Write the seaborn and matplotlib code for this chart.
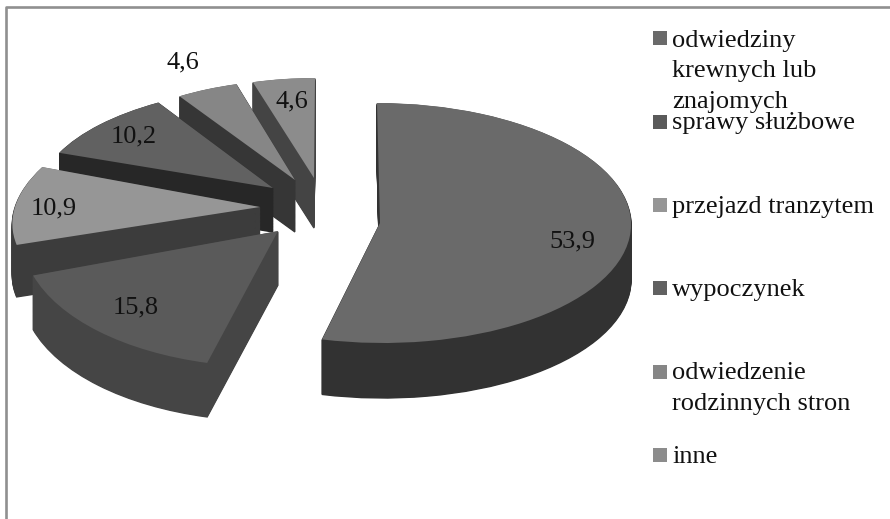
import numpy as np
import matplotlib
matplotlib.use("Agg")
import matplotlib.pyplot as plt
from matplotlib.transforms import Affine2D
import seaborn as sns

# data
categories = ["odwiedziny\nkrewnych lub\nznajomych", "sprawy służbowe", "przejazd tranzytem",
              "wypoczynek", "odwiedzenie\nrodzinnych stron", "inne"]
values = [53.9, 15.8, 10.9, 10.2, 4.6, 4.6]

# colours
top_colors = ["#6a6a6a", "#5a5a5a", "#969696", "#616161", "#868686", "#8c8c8c"]
side_colors = ["#323232", "#454545", "#3c3c3c", "#272727", "#363636", "#444444"]

# each slice is moved by hand, the 3d chart has its own perspective
apex_x = [380, 278, 260, 273, 295, 314]
apex_y = [223, 231, 207, 188, 180, 178]
radius_x = [251, 256, 245, 233, 216, 218]
radius_y = [120, 136, 116, 102, 100, 100]
skew = [-3, 9, 36, 15, 3, 1]
depth = [55, 54, 52, 44, 52, 50]
stack = [0, 5, 4, 3, 2, 1]  # higher is drawn later

# text positions in pixels
value_x = [572, 136, 54, 134, 183, 292]
value_y = [241, 307, 208, 136, 62, 101]
legend_x = 672
legend_y = [47, 129, 213, 296, 379, 463]
line_gap = [30.5, 0, 0, 0, 31, 0]
marker_y = [38, 122, 205, 288, 372, 455]

sns.set_theme(style="white")
plt.rcParams["font.family"] = ["Liberation Serif"]

fig = plt.figure(figsize=(8.9, 5.19), dpi=100)
ax = fig.add_axes([0, 0, 1, 1])


def draw_layer(colors, lift, zbase, edge):
    wedges, _ = ax.pie(values, colors=colors, startangle=90, counterclock=False)
    for i, w in enumerate(wedges):
        m = np.array([[radius_x[i], skew[i], apex_x[i]],
                      [0, -radius_y[i], apex_y[i] + depth[i] * lift],
                      [0, 0, 1]])
        w.set_transform(Affine2D(m) + ax.transData)
        w.set_zorder(stack[i] * 1000 + zbase)
        w.set_clip_on(False)
        if edge:
            w.set_edgecolor(colors[i])
            w.set_linewidth(1)
        else:
            w.set_linewidth(0)


# side walls are a pile of pies in the dark colour, the top goes last
layers = np.linspace(1, 0, 60)
for n, lift in enumerate(layers[:-1]):
    draw_layer(side_colors, lift, n, True)
draw_layer(top_colors, 0, 500, False)

for i, v in enumerate(values):
    ax.text(value_x[i], value_y[i], f"{v:.1f}".replace(".", ","), fontsize=19, color="#111111",
            ha="center", va="center", zorder=9000)

# legend is placed by hand since the first entry runs into the second
sns.scatterplot(x=[660] * len(marker_y), y=marker_y, hue=categories, palette=top_colors,
                marker="s", s=100, linewidth=0, legend=False, ax=ax, zorder=9000, clip_on=False)
for i, name in enumerate(categories):
    for k, line in enumerate(name.split("\n")):
        ax.text(legend_x, legend_y[i] + k * line_gap[i], line, fontsize=19, color="#111111",
                ha="left", va="baseline", zorder=9000)

# outer frame, only top and left show in the crop
ax.plot([6.3, 6.3, 900], [530, 7, 7], color="#909090", lw=1.9, zorder=9500, clip_on=True)

ax.set_aspect("auto")
ax.set_xlim(0, 890)
ax.set_ylim(519, 0)
ax.axis("off")

fig.savefig("out.png", dpi=100)
